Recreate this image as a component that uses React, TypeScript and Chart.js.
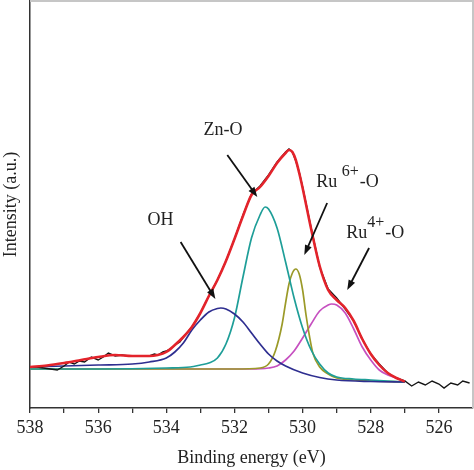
import React, { useEffect, useRef } from "react";
import { Chart, registerables } from "chart.js";

Chart.register(...registerables);

// ---- axis ticks ----
const X_TICKS = [538, 537, 536, 535, 534, 533, 532, 531, 530, 529, 528, 527, 526];
const X_TICK_LABELS = ["538", "", "536", "", "534", "", "532", "", "530", "", "528", "", "526"];

// ---- raw spectrum (black) ----
const RAW_EV = [538.0, 537.8, 537.6, 537.4, 537.2, 537.0, 536.85, 536.7, 536.55, 536.4, 536.2, 536.0, 535.85, 535.7, 535.5, 535.3, 535.1, 534.9, 534.7, 534.5, 534.35, 534.25, 534.1, 534.0, 533.85, 533.7, 533.6, 533.5, 533.25, 533.0, 532.75, 532.5, 532.25, 532.0, 531.75, 531.5, 531.25, 531.0, 530.75, 530.5, 530.4, 530.3, 530.2, 530.1, 530.0, 529.75, 529.5, 529.25, 529.0, 528.75, 528.5, 528.25, 528.0, 527.75, 527.5, 527.25, 527.0, 526.8, 526.6, 526.4, 526.2, 526.0, 525.85, 525.65, 525.45, 525.3, 525.1];
const RAW_I = [41, 41, 40, 39, 38, 42, 46, 44, 47, 46, 51, 48, 51, 55, 52, 53, 52, 52, 52, 52, 54, 53, 56, 57, 60, 64, 66, 71, 81, 95, 112, 128, 147, 169, 193, 214, 222, 233, 246, 256, 259, 256, 247, 236, 221, 180, 141, 119, 110, 99, 87, 69, 54, 44, 35, 30, 27, 22, 26, 23, 27, 24, 20, 25, 23, 27, 25];

// ---- fitted envelope (red) ----
const FIT_EV = [538.0, 537.5, 537.0, 536.5, 536.0, 535.5, 535.0, 534.5, 534.25, 534.0, 533.75, 533.5, 533.25, 533.0, 532.75, 532.5, 532.25, 532.0, 531.75, 531.5, 531.25, 531.0, 530.75, 530.5, 530.4, 530.3, 530.2, 530.1, 530.0, 529.75, 529.5, 529.25, 529.0, 528.75, 528.5, 528.25, 528.0, 527.75, 527.5, 527.25, 527.0];
const FIT_I = [41, 42.5, 45, 48, 51, 53, 52, 52, 53, 56, 63, 71, 81, 95, 112, 128, 147, 169, 192, 213, 221, 232, 245, 255, 258, 256, 248, 235, 220, 179, 142, 118, 108, 100, 87, 69, 54, 43, 35, 30, 26.5];

// ---- components ----
const OH_EV = [538, 537, 536, 535, 534.5, 534.0, 533.75, 533.5, 533.25, 533.0, 532.75, 532.5, 532.4, 532.25, 532.0, 531.75, 531.5, 531.25, 531.0, 530.75, 530.5, 530.0, 529.5, 529.0, 528.0, 527.0];
const OH_I = [41, 42, 43, 44, 46, 50, 56, 65, 78, 88, 96, 99.5, 100, 99, 94, 86, 75, 64, 54, 47, 42, 35, 30.5, 28, 26.5, 26];

const ZNO_EV = [538, 536, 534, 533.3, 533.0, 532.75, 532.5, 532.25, 532.0, 531.75, 531.5, 531.25, 531.1, 531.0, 530.75, 530.5, 530.25, 530.0, 529.75, 529.5, 529.25, 529.0, 528.5, 528.0, 527.0];
const ZNO_I = [39, 39, 40, 41, 43, 45, 50, 64, 90, 131, 170, 193, 201, 199, 180, 146, 110, 80, 58, 44, 35, 31, 29, 28, 26];

const RU6_EV = [538, 535, 532, 531.25, 531.0, 530.8, 530.6, 530.5, 530.4, 530.3, 530.2, 530.1, 530.0, 529.9, 529.8, 529.7, 529.5, 529.25, 529.0, 528.5, 528.0, 527.0];
const RU6_I = [39, 39, 39, 40, 44, 57, 84, 105, 124, 135, 139, 134, 118, 93, 72, 55, 41, 34, 30, 28, 27, 26];

const RU4_EV = [538, 533, 531.5, 531.0, 530.75, 530.5, 530.25, 530.0, 529.75, 529.5, 529.25, 529.15, 529.0, 528.75, 528.5, 528.25, 528.0, 527.75, 527.5, 527.25, 527.0];
const RU4_I = [39, 39, 39, 40, 42, 48, 57, 70, 84, 97, 103, 104, 103, 95, 79, 61, 48, 38, 33, 30, 26];

// ---- annotation labels ----
const LABEL_OH = [{ t: "OH", sup: false }];
const LABEL_ZNO = [{ t: "Zn-O", sup: false }];
const LABEL_RU6 = [{ t: "Ru ", sup: false }, { t: "6+", sup: true }, { t: "-O", sup: false }];
const LABEL_RU4 = [{ t: "Ru", sup: false }, { t: "4+", sup: true }, { t: "-O", sup: false }];

const FONT = "'Liberation Serif', 'Times New Roman', serif";

const zip = (xs: number[], ys: number[]) => {
  const n = Math.min(xs.length, ys.length);
  const out: { x: number; y: number }[] = [];
  for (let i = 0; i < n; i++) out.push({ x: xs[i], y: ys[i] });
  return out;
};

function drawArrow(ctx: CanvasRenderingContext2D, x1: number, y1: number, x2: number, y2: number) {
  const ang = Math.atan2(y2 - y1, x2 - x1);
  const head = 10;
  const w = 3.6;
  const c = Math.cos(ang);
  const s = Math.sin(ang);
  ctx.beginPath();
  ctx.moveTo(x1, y1);
  ctx.lineTo(x2 - head * 0.7 * c, y2 - head * 0.7 * s);
  ctx.stroke();
  ctx.beginPath();
  ctx.moveTo(x2, y2);
  ctx.lineTo(x2 - head * c + w * s, y2 - head * s - w * c);
  ctx.lineTo(x2 - head * c - w * s, y2 - head * s + w * c);
  ctx.closePath();
  ctx.fill();
}

const annotPlugin = {
  id: "xpsAnnotations",
  afterDatasetsDraw(chart: any) {
    const { ctx, chartArea, scales } = chart;
    const xs = scales.x;
    const ys = scales.y;
    const px = (v: number) => xs.getPixelForValue(v);
    const py = (v: number) => ys.getPixelForValue(v);
    ctx.save();
    // frame top + right (light grey)
    ctx.strokeStyle = "#c6c6c6";
    ctx.lineWidth = 2;
    ctx.beginPath();
    ctx.moveTo(chartArea.left, chartArea.top);
    ctx.lineTo(chartArea.right, chartArea.top);
    ctx.lineTo(chartArea.right, chartArea.bottom);
    ctx.stroke();

    // arrows
    ctx.strokeStyle = "#111";
    ctx.fillStyle = "#111";
    ctx.lineWidth = 1.8;
    const arrows = [
      [533.58, 166, 532.56, 109],
      [532.21, 253, 531.33, 211],
      [529.28, 205, 529.95, 153],
      [528.05, 160, 528.69, 118],
    ];
    arrows.forEach((a) => drawArrow(ctx, px(a[0]), py(a[1]), px(a[2]), py(a[3])));

    // labels
    const labels = [
      { parts: LABEL_OH, ev: 534.55, i: 183 },
      { parts: LABEL_ZNO, ev: 532.91, i: 273 },
      { parts: LABEL_RU6, ev: 529.6, i: 221 },
      { parts: LABEL_RU4, ev: 528.72, i: 170 },
    ];
    ctx.fillStyle = "#222";
    ctx.textBaseline = "alphabetic";
    ctx.textAlign = "left";
    labels.forEach((lab) => {
      let x = px(lab.ev);
      const y = py(lab.i);
      lab.parts.forEach((p) => {
        ctx.font = (p.sup ? "16px " : "18px ") + FONT;
        ctx.fillText(p.t, x, p.sup ? y - 11 : y);
        x += ctx.measureText(p.t).width + (p.sup ? 1 : 0);
      });
    });
    ctx.restore();
  },
};

export default function App() {
  const canvasRef = useRef<HTMLCanvasElement | null>(null);

  useEffect(() => {
    document.body.style.margin = "0";
    const canvas = canvasRef.current;
    if (!canvas) return;
    const line = (data: any[], color: string, width: number, smooth: boolean) => ({
      data,
      borderColor: color,
      backgroundColor: color,
      borderWidth: width,
      pointRadius: 0,
      fill: false,
      tension: smooth ? 0.4 : 0,
      cubicInterpolationMode: smooth ? ("monotone" as const) : ("default" as const),
    });
    const chart = new Chart(canvas, {
      type: "line",
      data: {
        datasets: [
          line(zip(FIT_EV, FIT_I), "#e3232b", 2.6, true),
          line(zip(RAW_EV, RAW_I), "#151515", 1.4, false),
          line(zip(OH_EV, OH_I), "#2e2e90", 1.7, true),
          line(zip(ZNO_EV, ZNO_I), "#1e9e98", 1.7, true),
          line(zip(RU6_EV, RU6_I), "#9b9a28", 1.7, true),
          line(zip(RU4_EV, RU4_I), "#c650c0", 1.7, true),
        ],
      },
      options: {
        animation: false,
        responsive: false,
        maintainAspectRatio: false,
        layout: { padding: { top: 1, right: 1, left: 0, bottom: 0 } },
        plugins: { legend: { display: false }, tooltip: { enabled: false } },
        scales: {
          x: {
            type: "linear",
            reverse: true,
            min: 525,
            max: 538,
            afterBuildTicks: (scale: any) => {
              scale.ticks = X_TICKS.map((v) => ({ value: v }));
            },
            afterFit: (scale: any) => {
              scale.height = 62;
            },
            ticks: {
              autoSkip: false,
              maxRotation: 0,
              padding: 4,
              color: "#222",
              font: { family: FONT, size: 18 },
              callback: (v: any) => {
                const idx = X_TICKS.indexOf(Number(v));
                return idx >= 0 ? X_TICK_LABELS[idx] : "";
              },
            },
            grid: { drawOnChartArea: false, drawTicks: true, tickLength: 5, color: "#333", lineWidth: 1.3 },
            border: { display: true, color: "#333", width: 1.5 },
            title: {
              display: true,
              text: "Binding energy (eV)",
              color: "#222",
              font: { family: FONT, size: 18 },
              padding: { top: 0, bottom: 1 },
            },
          },
          y: {
            type: "linear",
            min: 0,
            max: 407,
            afterFit: (scale: any) => {
              scale.width = 30;
            },
            ticks: { display: false },
            grid: { display: false },
            border: { display: true, color: "#333", width: 1.5 },
            title: {
              display: true,
              text: "Intensity (a.u.)",
              color: "#222",
              font: { family: FONT, size: 18 },
              padding: { top: 0, bottom: 0 },
            },
          },
        },
      },
      plugins: [annotPlugin],
    });
    return () => chart.destroy();
  }, []);

  return (
    <div style={{ width: 474, height: 470, background: "#fff" }}>
      <canvas ref={canvasRef} width={474} height={470} style={{ display: "block" }} />
    </div>
  );
}
